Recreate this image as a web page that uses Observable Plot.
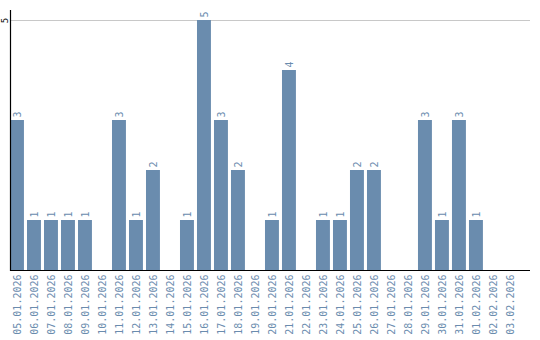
<!DOCTYPE html>
<html><head><meta charset="utf-8">
<script src="https://cdn.jsdelivr.net/npm/d3@7"></script>
<script src="https://cdn.jsdelivr.net/npm/@observablehq/plot@0.6"></script>
<style>body{margin:0;background:#fff}</style>
</head><body><div id="chart"></div>
<script>
const dates = ["05.01.2026","06.01.2026","07.01.2026","08.01.2026","09.01.2026","10.01.2026","11.01.2026","12.01.2026","13.01.2026","14.01.2026","15.01.2026","16.01.2026","17.01.2026","18.01.2026","19.01.2026","20.01.2026","21.01.2026","22.01.2026","23.01.2026","24.01.2026","25.01.2026","26.01.2026","27.01.2026","28.01.2026","29.01.2026","30.01.2026","31.01.2026","01.02.2026","02.02.2026","03.02.2026"];
const counts = [3,1,1,1,1,0,3,1,2,0,1,5,3,2,0,1,4,0,1,1,2,2,0,0,3,1,3,1,0,0];
const yTicks = [5];
const data = dates.map((d,i)=>({date:d, value:counts[i]}));
const barColor = "#6a8cae";
const chart = Plot.plot({
  width: 540, height: 340,
  marginLeft: 10, marginRight: 10, marginTop: 10, marginBottom: 70,
  style: {fontFamily: "DejaVu Sans Mono", fontSize: "10px", background: "#fff"},
  x: {domain: dates, paddingInner: 0.18, paddingOuter: 0.385, align: 0, round: false, label: null},
  y: {domain: [0, 5.2], label: null},
  marks: [
    Plot.ruleY(yTicks, {stroke: "#c8c8c8", strokeWidth: 1, strokeOpacity: 1}),
    Plot.barY(data.filter(d=>d.value>0), {x: "date", y: "value", fill: barColor}),
    Plot.text(data.filter(d=>d.value>0), {x: "date", y: "value", text: d=>String(d.value), rotate: -90, textAnchor: "start", dy: -3, fill: barColor, fontSize: 10}),
    Plot.axisX({tickSize: 0, tickRotate: -90, tickPadding: 4, fill: barColor, fontSize: 10}),
    Plot.axisY({ticks: yTicks, tickFormat: "d", tickSize: 0, tickRotate: -90, tickPadding: 3, fill: "#000", fontSize: 9}),
    Plot.ruleY([0], {stroke: "#000", strokeWidth: 1.2}),
    Plot.frame({anchor: "left", stroke: "#000", strokeWidth: 1.2})
  ]
});
document.getElementById("chart").appendChild(chart);
</script></body></html>
